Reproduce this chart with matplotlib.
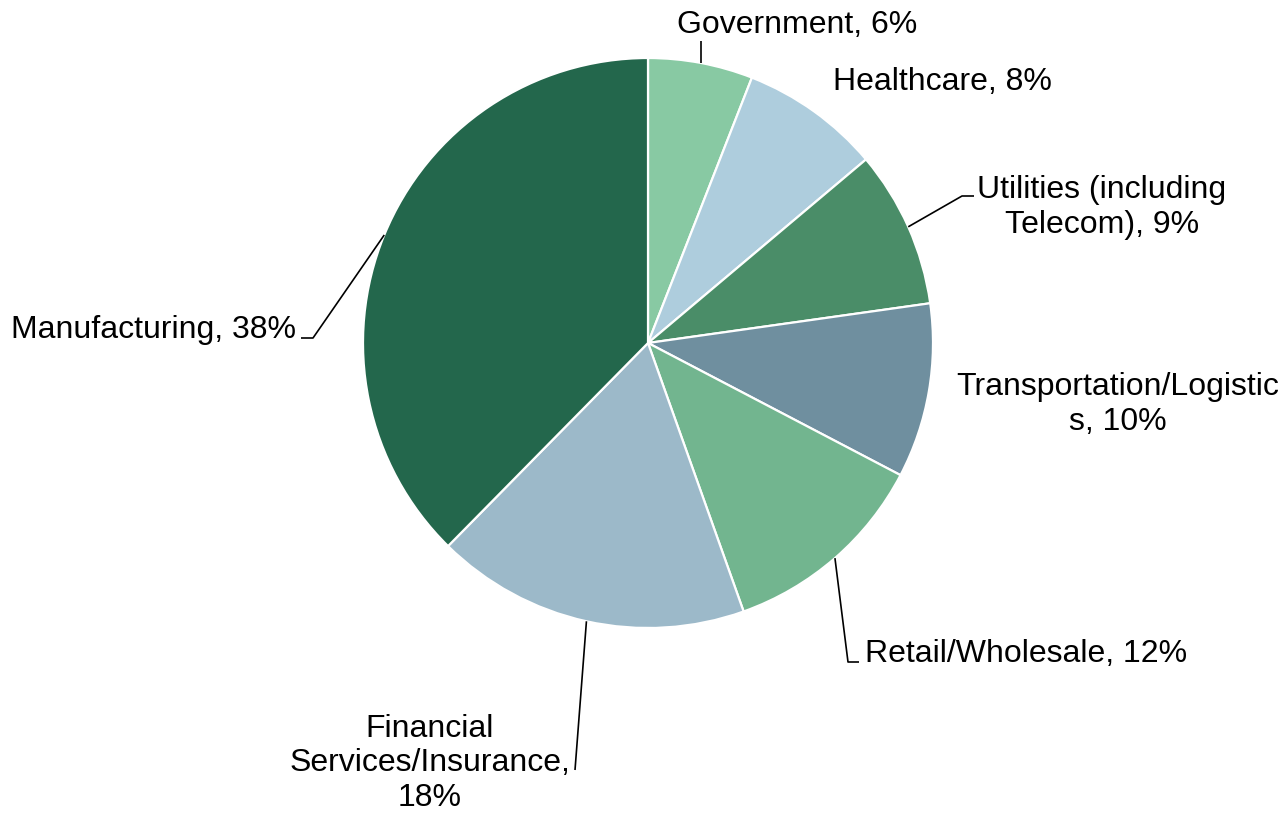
import numpy as np
import matplotlib
matplotlib.use("Agg")
import matplotlib.pyplot as plt

plt.rcParams["font.family"] = ["Liberation Sans", "DejaVu Sans"]

# Industry share of respondents (%), clockwise from 12 o'clock
categories = [
    "Government",
    "Healthcare",
    "Utilities (including\nTelecom)",
    "Transportation/Logistic\ns",
    "Retail/Wholesale",
    "Financial\nServices/Insurance,\n",
    "Manufacturing",
]
shares = [6, 8, 9, 10, 12, 18, 38]
colors = ["#88C9A3", "#AECDDD", "#4A8D68", "#6F8F9F", "#72B58F", "#9CB9C9", "#23674C"]

W, H = 1287, 814
fig = plt.figure(figsize=(W / 100, H / 100), dpi=100)
ax = fig.add_axes([0, 0, 1, 1])
ax.axis("off")

cx, cy, R = 648, H - 343, 285
wedges, _ = ax.pie(
    shares,
    colors=colors,
    startangle=90,
    counterclock=False,
    center=(cx, cy),
    radius=R,
    wedgeprops=dict(edgecolor="white", linewidth=1.6),
)
ax.set_xlim(0, W)
ax.set_ylim(0, H)
ax.set_aspect("equal")

FS = 23
LS = 1.2


def label_text(i):
    name = categories[i]
    if name.endswith("\n"):
        return f"{name}{shares[i]}%"
    return f"{name}, {shares[i]}%"


def anchor(i):
    w = wedges[i]
    ang = np.deg2rad((w.theta1 + w.theta2) / 2)
    return cx + R * np.cos(ang), cy + R * np.sin(ang)


def leader(i, pts):
    x0, y0 = anchor(i)
    xs = [x0] + [x0 if p[0] is None else p[0] for p in pts]
    ys = [y0] + [H - p[1] for p in pts]
    ax.plot(xs, ys, color="black", lw=1.2, solid_capstyle="butt", zorder=3)


def put(i, x, y, ha):
    # y is the baseline of the last text line, measured from the top
    ax.text(x, H - y, label_text(i), fontsize=FS, ha=ha, va="baseline",
            multialignment="center", linespacing=LS, zorder=4)


put(0, 797, 33, "center")
leader(0, [(None, 41)])

put(1, 942, 90, "center")

put(2, 1102, 233, "center")
leader(2, [(962, 196), (974, 196)])

put(3, 1118, 430, "center")

put(4, 865, 662, "left")
leader(4, [(848, 662), (859, 662)])

put(5, 430, 806, "center")
leader(5, [(575, 770)])

put(6, 296, 338, "right")
leader(6, [(313, 338), (301, 338)])

fig.savefig("out.png", dpi=100, facecolor="white")
